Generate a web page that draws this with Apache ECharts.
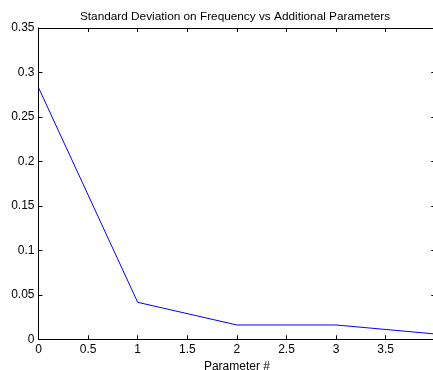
<!DOCTYPE html>
<html>
<head>
<meta charset="utf-8">
<script src="https://cdn.jsdelivr.net/npm/echarts@6/dist/echarts.min.js"></script>
<style>
  html, body { margin: 0; padding: 0; background: #fff; }
  #chart { width: 433px; height: 370px; }
</style>
</head>
<body>
<div id="chart"></div>
<script>
const paramNumbers = [0, 1, 2, 3, 4]
const stdDevFreq = [0.283, 0.0416, 0.0161, 0.0161, 0.006]

const font = '"Liberation Sans", Arial, sans-serif'
const tickStyle = { show: true, inside: true, length: 4, lineStyle: { color: '#000', width: 1 } }
const lineStyle = { show: true, onZero: false, lineStyle: { color: '#000', width: 1 } }

const chart = echarts.init(document.getElementById('chart'), undefined, { renderer: 'canvas' })

chart.setOption({
  backgroundColor: '#fff',
  animation: false,
  title: {
    text: 'Standard Deviation on Frequency vs Additional Parameters',
    left: 230,
    textAlign: 'center',
    top: 6,
    textStyle: { fontFamily: font, fontSize: 11.8, fontWeight: 'normal', color: '#000' },
  },
  grid: { left: 38.5, right: -2.3, top: 28, bottom: 30.7, outerBoundsMode: 'none' },
  xAxis: [
    {
      type: 'value',
      min: 0,
      max: 4,
      interval: 0.5,
      name: 'Parameter #',
      nameLocation: 'middle',
      nameGap: 20,
      nameTextStyle: { fontFamily: font, fontSize: 12, color: '#000' },
      axisLine: lineStyle,
      axisTick: tickStyle,
      splitLine: { show: false },
      axisLabel: {
        fontFamily: font, fontSize: 12, color: '#000', margin: 4,
        formatter: v => (v >= 4 ? '' : String(+v.toFixed(2))),
      },
    },
    {
      type: 'value',
      position: 'top',
      min: 0,
      max: 4,
      interval: 0.5,
      axisLine: lineStyle,
      axisTick: tickStyle,
      splitLine: { show: false },
      axisLabel: { show: false },
    },
  ],
  yAxis: [
    {
      type: 'value',
      min: 0,
      max: 0.35,
      interval: 0.05,
      axisLine: lineStyle,
      axisTick: tickStyle,
      splitLine: { show: false },
      axisLabel: {
        fontFamily: font, fontSize: 12, color: '#000', margin: 4,
        formatter: v => String(+v.toFixed(2)),
      },
    },
    {
      type: 'value',
      position: 'right',
      min: 0,
      max: 0.35,
      interval: 0.05,
      axisLine: lineStyle,
      axisTick: tickStyle,
      splitLine: { show: false },
      axisLabel: { show: false },
    },
  ],
  series: [
    {
      type: 'line',
      data: paramNumbers.map((x, i) => [x, stdDevFreq[i]]),
      showSymbol: false,
      symbol: 'none',
      lineStyle: { color: '#0000ff', width: 1 },
      clip: true,
    },
  ],
})
</script>
</body>
</html>
